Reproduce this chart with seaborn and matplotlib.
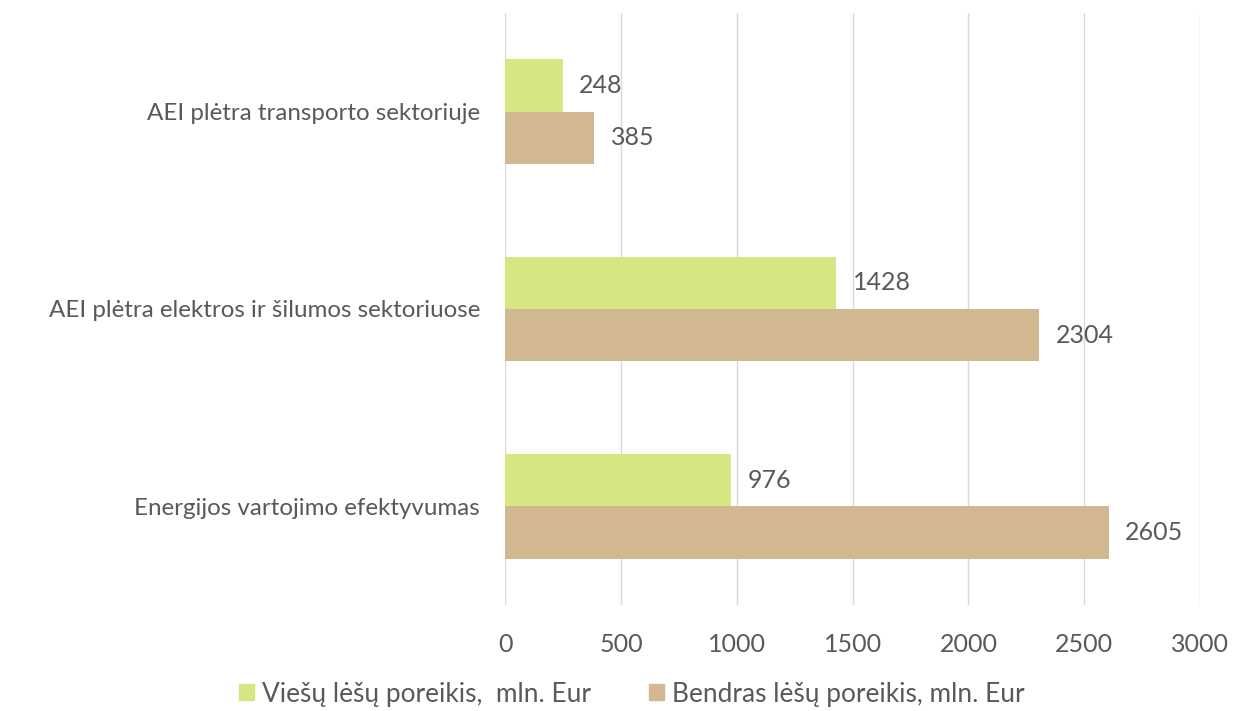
import matplotlib
matplotlib.use("Agg")
import matplotlib.pyplot as plt
import seaborn as sns
import pandas as pd

categories = ["AEI plėtra transporto sektoriuje",
              "AEI plėtra elektros ir šilumos sektoriuose",
              "Energijos vartojimo efektyvumas"]
series_names = ["Viešų lėšų poreikis,  mln. Eur", "Bendras lėšų poreikis, mln. Eur"]
viesu = [248, 1428, 976]
bendras = [385, 2304, 2605]
x_ticks = [0, 500, 1000, 1500, 2000, 2500, 3000]
colors = ["#D7E682", "#D1B891"]

sns.set_theme(style="white")
plt.rcParams['font.family'] = ['Lato', 'DejaVu Sans']
text_color = "#595959"
fs = 18
fs_cat = 17.4
fs_leg = 18.9

df = pd.DataFrame({
    "cat": categories * 2,
    "value": viesu + bendras,
    "series": [series_names[0]] * 3 + [series_names[1]] * 3,
})

fig = plt.figure(figsize=(12.35, 7.11), dpi=100)
ax = fig.add_axes([0.409, 0.149, 0.5627, 0.833])
sns.barplot(data=df, y="cat", x="value", hue="series", orient="h",
            palette=colors, width=0.53, gap=0, ax=ax, saturation=1,
            order=categories, hue_order=series_names, linewidth=0)

for cont in ax.containers:
    ax.bar_label(cont, fmt="%d", padding=12, fontsize=fs, color=text_color)

ax.set_xlim(0, 3000)
ax.set_xticks(x_ticks)
ax.set_xticklabels([str(t) for t in x_ticks])
ax.set_xlabel("")
ax.set_ylabel("")
ax.grid(axis="x", color="#D9D9D9", linewidth=1.0)
ax.set_axisbelow(True)
for s in ax.spines.values():
    s.set_visible(False)
ax.tick_params(axis="both", length=0, colors=text_color)
ax.tick_params(axis="x", pad=20, labelsize=fs)
ax.tick_params(axis="y", pad=18, labelsize=fs_cat)

ax.legend_.remove()
handles = [plt.Rectangle((0, 0), 1, 1, color=c) for c in colors]
leg = fig.legend(handles, series_names, loc="lower center",
                 bbox_to_anchor=(632 / 1235, -0.027), ncol=2, frameon=False,
                 fontsize=fs_leg, handlelength=0.57, handleheight=0.57,
                 handletextpad=0.3, columnspacing=2.2)
for t in leg.get_texts():
    t.set_color(text_color)

fig.savefig("out.png", dpi=100)
